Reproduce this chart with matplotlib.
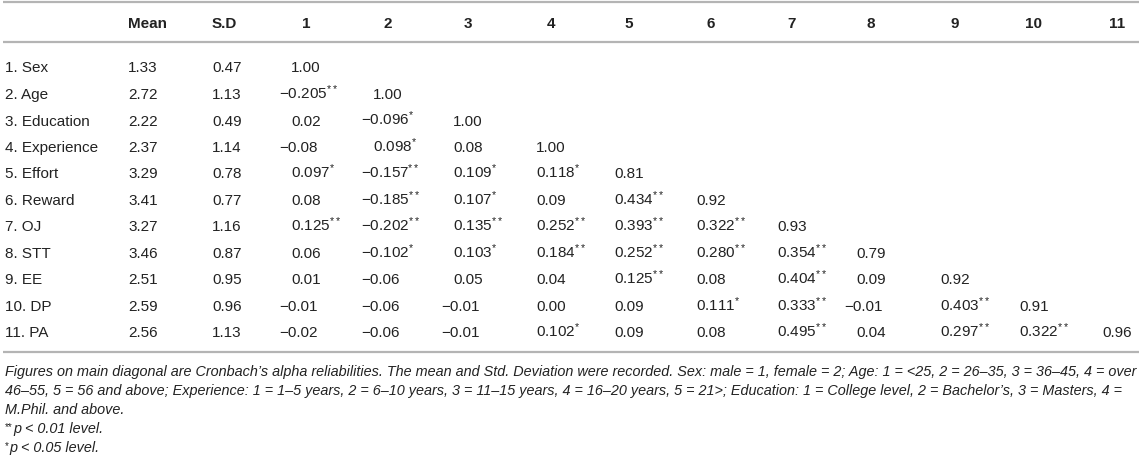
import matplotlib.pyplot as plt

plt.rcParams['font.family'] = ['Liberation Sans', 'DejaVu Sans']
plt.rcParams['mathtext.fontset'] = 'custom'
plt.rcParams['mathtext.rm'] = 'Liberation Sans'
plt.rcParams['mathtext.it'] = 'Liberation Sans:italic'
plt.rcParams['mathtext.bf'] = 'Liberation Sans:bold'

# dane tabeli
variables = ["1. Sex", "2. Age", "3. Education", "4. Experience", "5. Effort",
             "6. Reward", "7. OJ", "8. STT", "9. EE", "10. DP", "11. PA"]
means = ["1.33", "2.72", "2.22", "2.37", "3.29", "3.41", "3.27", "3.46", "2.51", "2.59", "2.56"]
sds = ["0.47", "1.13", "0.49", "1.14", "0.78", "0.77", "1.16", "0.87", "0.95", "0.96", "1.13"]
col_headers = ["1", "2", "3", "4", "5", "6", "7", "8", "9", "10", "11"]

# dolny trojkat macierzy korelacji (na przekatnej alfa Cronbacha)
correlations = [
    ["1.00"],
    ["−0.205**", "1.00"],
    ["0.02", "−0.096*", "1.00"],
    ["−0.08", "0.098*", "0.08", "1.00"],
    ["0.097*", "−0.157**", "0.109*", "0.118*", "0.81"],
    ["0.08", "−0.185**", "0.107*", "0.09", "0.434**", "0.92"],
    ["0.125**", "−0.202**", "0.135**", "0.252**", "0.393**", "0.322**", "0.93"],
    ["0.06", "−0.102*", "0.103*", "0.184**", "0.252**", "0.280**", "0.354**", "0.79"],
    ["0.01", "−0.06", "0.05", "0.04", "0.125**", "0.08", "0.404**", "0.09", "0.92"],
    ["−0.01", "−0.06", "−0.01", "0.00", "0.09", "0.111*", "0.333**", "−0.01", "0.403**", "0.91"],
    ["−0.02", "−0.06", "−0.01", "0.102*", "0.09", "0.08", "0.495**", "0.04", "0.297**", "0.322**", "0.96"],
]

footnotes = [
    "Figures on main diagonal are Cronbach’s alpha reliabilities. The mean and Std. Deviation were recorded. "
    "Sex: male = 1, female = 2; Age: 1 = <25, 2 = 26–35, 3 = 36–45, 4 = over",
    "46–55, 5 = 56 and above; Experience: 1 = 1–5 years, 2 = 6–10 years, 3 = 11–15 years, 4 = 16–20 years, "
    "5 = 21>; Education: 1 = College level, 2 = Bachelor’s, 3 = Masters, 4 =",
    "M.Phil. and above.",
]
sig_notes = [("**", "p < 0.01 level."), ("*", "p < 0.05 level.")]

W, H = 1143, 460
fig = plt.figure(figsize=(W / 100, H / 100), dpi=100)
ax = fig.add_axes([0, 0, 1, 1])
ax.set_xlim(0, W)
ax.set_ylim(H, 0)
ax.axis('off')

txt_color = '#222222'
line_color = '#b4b4b4'
fs = 11

label_x = 5
mean_x = 128
sd_x = 212
col_x = [291, 373, 453, 536, 614, 696, 777, 856, 940, 1019, 1102]
header_y = 22
row_y0 = 67
row_dy = 26.5
base_off = 5.5  # przesuniecie srodka wiersza do linii bazowej


def fmt(value):
    # gwiazdki jako indeks gorny
    stars = value.count('*')
    base = value.replace('*', '')
    if stars:
        return base + '$^{' + '*' * stars + '}$'
    return base


# linie poziome
for y in [3, 43, 353]:
    ax.plot([3, 1139], [y, y], color=line_color, lw=1.6, solid_capstyle='butt')

# naglowek
hy = header_y + base_off
ax.text(mean_x, hy, "Mean", fontsize=fs, fontweight='bold', color=txt_color, va='baseline', ha='left')
ax.text(sd_x, hy, "S.D", fontsize=fs, fontweight='bold', color=txt_color, va='baseline', ha='left')
for x, h in zip(col_x, col_headers):
    ax.text(x + 15, hy, h, fontsize=fs, fontweight='bold', color=txt_color, va='baseline', ha='center')

# wiersze
for i, name in enumerate(variables):
    y = row_y0 + i * row_dy + base_off
    ax.text(label_x, y, name, fontsize=fs, color=txt_color, va='baseline', ha='left')
    ax.text(mean_x, y, means[i], fontsize=fs, color=txt_color, va='baseline', ha='left')
    ax.text(sd_x, y, sds[i], fontsize=fs, color=txt_color, va='baseline', ha='left')
    for j, val in enumerate(correlations[i]):
        x = col_x[j] - 12 if val.startswith('−') else col_x[j]
        ax.text(x, y, fmt(val), fontsize=fs, color=txt_color, va='baseline', ha='left')

# przypisy - rozmiar dobrany do szerokosci tabeli
foot_y = [372, 391, 410]
foot_texts = []
for y, line in zip(foot_y, footnotes):
    t = ax.text(5, y + 4.5, line, fontsize=10, style='italic', color=txt_color, va='baseline', ha='left')
    foot_texts.append(t)

renderer = fig.canvas.get_renderer()
widest = max(t.get_window_extent(renderer).width for t in foot_texts[:2])
foot_fs = 10 * (1134 / widest)
for t in foot_texts:
    t.set_fontsize(foot_fs)

# poziomy istotnosci: male gwiazdki u gory
sig_y = [429, 448]
for y, (stars, note) in zip(sig_y, sig_notes):
    s = ax.text(5, y + 1, stars, fontsize=7, color=txt_color, va='baseline', ha='left')
    sw = s.get_window_extent(renderer).width
    ax.text(5 + sw + 0.5, y + 4.5, note, fontsize=foot_fs, style='italic', color=txt_color,
            va='baseline', ha='left')

fig.savefig('out.png', dpi=100, facecolor='white')
